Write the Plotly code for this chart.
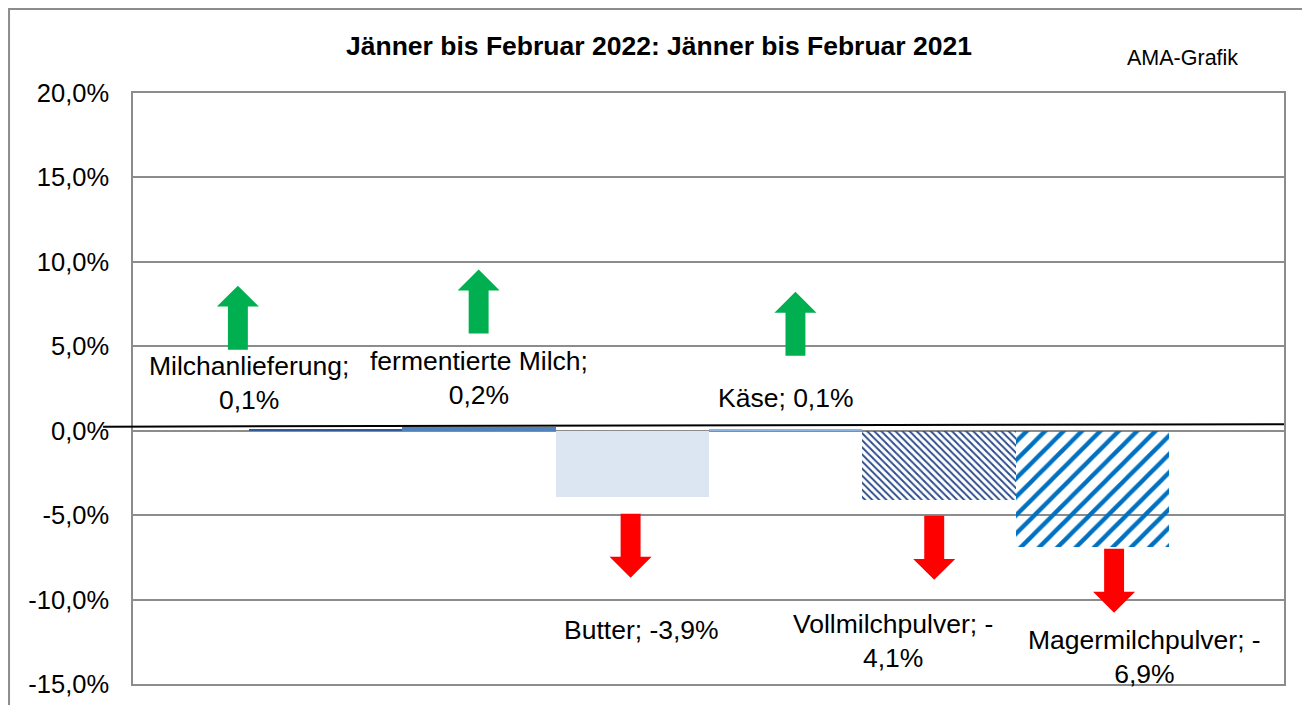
import plotly.graph_objects as go

# data (change Jan-Feb 2022 vs Jan-Feb 2021, in %)
categories = ["Milchanlieferung", "fermentierte Milch", "Butter", "Käse",
              "Vollmilchpulver", "Magermilchpulver"]
values = [0.1, 0.2, -3.9, 0.1, -4.1, -6.9]
y_ticks = [-15, -10, -5, 0, 5, 10, 15, 20]
y_tick_labels = ["-15,0%", "-10,0%", "-5,0%", "0,0%", "5,0%", "10,0%", "15,0%", "20,0%"]

bar_colors = ["#2E5A9C", "#4F81BD", "#DCE6F2", "#8DB3E2", "#2A4B8A", "#0070C0"]
pattern_shapes = ["", "", "", "", "\\", "/"]
pattern_sizes = [8, 8, 8, 8, 5, 13]
pattern_solidity = [0.3, 0.3, 0.3, 0.3, 0.38, 0.33]
# label placement (data coords) and whether Excel wrapped the label
label_pos = [(-0.5, 2.8), (1.0, 3.1), (2.06, -11.8), (3.0, 1.95), (3.7, -12.45), (5.34, -13.4)]
label_wrap = [True, True, False, False, True, True]
# arrow anchors: (x, base y)
arrow_pos = [(-0.572, 4.8), (0.998, 5.75), (1.989, -4.92), (3.064, 4.44), (3.969, -5.04), (5.142, -6.99)]

FONT = "Liberation Sans, Arial, sans-serif"


def fmt(v):
    return f"{v:.1f}".replace(".", ",") + "%"


def label_text(name, v, wrap):
    s = fmt(v)
    if not wrap:
        return f"{name}; {s}"
    if v < 0:
        return f"{name}; -<br>{s[1:]}"
    return f"{name};<br>{s}"


def arrow_path(x, y0, up):
    d = 1 if up else -1
    sw, hw = 0.065, 0.137
    shaft, head = 2.55, 1.24
    y1 = y0 + d * shaft
    y2 = y1 + d * head
    pts = [(x - sw, y0), (x - sw, y1), (x - hw, y1), (x, y2), (x + hw, y1), (x + sw, y1), (x + sw, y0)]
    return "M " + " L ".join(f"{px},{py}" for px, py in pts) + " Z"


fig = go.Figure(go.Bar(
    x=list(range(len(categories))),
    y=values,
    width=1,
    marker=dict(
        color=bar_colors,
        line=dict(width=0),
        pattern=dict(shape=pattern_shapes, bgcolor="white", size=pattern_sizes,
                     solidity=pattern_solidity, fgcolor=bar_colors, fgopacity=1,
                     fillmode="replace"),
    ),
    hovertext=categories,
))

shapes = []
for (ax, ay), v in zip(arrow_pos, values):
    up = v > 0
    shapes.append(dict(type="path", xref="x", yref="y", path=arrow_path(ax, ay, up),
                       fillcolor="#00B050" if up else "#FF0000", line=dict(width=0)))

# black line near zero, reaching past the axis
shapes.append(dict(type="line", xref="paper", yref="y", x0=-0.026, x1=1.0, y0=0.24, y1=0.38,
                   line=dict(color="black", width=2)))
# outer chart frame (right and bottom edges fall outside the picture)
shapes.append(dict(type="rect", xref="paper", yref="paper", x0=-0.1077, x1=1.05, y0=-0.06, y1=1.142,
                   line=dict(color="#8c8c8c", width=2)))

annotations = []
for name, v, (lx, ly), wrap in zip(categories, values, label_pos, label_wrap):
    annotations.append(dict(x=lx, y=ly, xref="x", yref="y", text=label_text(name, v, wrap),
                            showarrow=False, font=dict(size=26.5, color="black", family=FONT),
                            align="center", xanchor="center", yanchor="middle"))

annotations.append(dict(x=0.4574, y=1.0795, xref="paper", yref="paper",
                        text="<b>Jänner bis Februar 2022: Jänner bis Februar 2021</b>",
                        showarrow=False, font=dict(size=26.5, color="black", family=FONT),
                        xanchor="center", yanchor="middle"))
annotations.append(dict(x=0.912, y=1.059, xref="paper", yref="paper", text="AMA-Grafik",
                        showarrow=False, font=dict(size=21.5, color="black", family=FONT),
                        xanchor="center", yanchor="middle"))

fig.update_layout(
    width=1302, height=705,
    margin=dict(l=133, r=18, t=93, b=21, autoexpand=False),
    paper_bgcolor="white", plot_bgcolor="white",
    showlegend=False,
    bargap=0,
    font=dict(family=FONT, color="black"),
    shapes=shapes,
    annotations=annotations,
)
fig.update_xaxes(range=[-1.256, 6.25], showticklabels=False, showgrid=False, zeroline=False,
                 showline=True, mirror=True, linecolor="#8c8c8c", linewidth=1.5, ticks="")
fig.update_yaxes(range=[-15, 20], tickvals=y_ticks, ticktext=y_tick_labels,
                 tickfont=dict(size=25.5, color="black", family=FONT),
                 showgrid=True, gridcolor="#8c8c8c", gridwidth=1.5,
                 zeroline=True, zerolinecolor="#8c8c8c", zerolinewidth=1.5,
                 showline=True, mirror=True, linecolor="#8c8c8c", linewidth=1.5,
                 ticks="", ticklabelstandoff=17, automargin=False)

# drop the default body margin so the figure fills the window exactly
fig.write_html("out.html", config={"displayModeBar": False},
               post_script="document.body.style.margin='0';document.body.style.overflow='hidden';")
